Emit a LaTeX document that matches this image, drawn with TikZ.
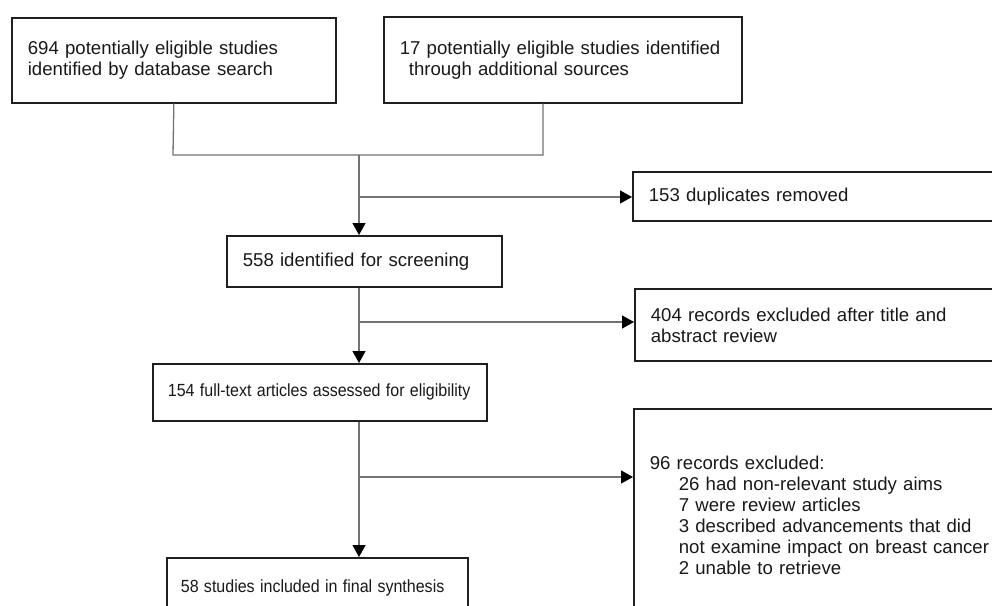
\documentclass[tikz,border=0pt]{standalone}
\usepackage{graphicx}
\usepackage{fontspec}
\setmainfont{Liberation Sans}
\usetikzlibrary{arrows.meta}
\begin{document}
\begin{tikzpicture}[x=1pt,y=-1pt,
  box/.style={draw=black!88, line width=1.7pt, anchor=north west, align=left,
    inner xsep=16pt, inner ysep=0pt, font=\fontsize{18.6}{21}\selectfont, text=black!90},
  small/.style={font=\fontsize{17.6}{21}\selectfont},
  conn/.style={draw=black!55, line width=1.3pt},
  arr/.style={conn, -{Triangle[length=12pt,width=13pt,color=black]}}]
\useasboundingbox (0,0) rectangle (992,605);
\clip (0,0) rectangle (992,605);
\fill[white] (0,0) rectangle (992,605);

\node[box, minimum width=324pt, minimum height=85pt, text width=292pt] (b1) at (11,17)
  {\mbox{694 potentially eligible studies}\\\mbox{identified by database search}};
\node[box, minimum width=358pt, minimum height=86pt, text width=326pt] (b2) at (383,16)
  {\mbox{17 potentially eligible studies identified}\\\hspace*{9pt}\mbox{through additional sources}};
\node[box, minimum width=400pt, minimum height=49pt, text width=368pt] (dup) at (632,171)
  {\mbox{153 duplicates removed}};
\node[box, minimum width=275pt, minimum height=51pt, text width=243pt] (b3) at (226,235)
  {\mbox{558 identified for screening}};
\node[box, minimum width=400pt, minimum height=72pt, text width=368pt] (ex2) at (634,288)
  {\mbox{404 records excluded after title and}\\\mbox{abstract review}};
\node[box, small, minimum width=334pt, minimum height=57pt, text width=304pt, inner xsep=15pt] (b4) at (152,363)
  {\scalebox{0.91}[1]{154 full-text articles assessed for eligibility}};
\node[box, small, minimum width=301pt, minimum height=60pt, text width=273pt, inner xsep=14pt] (b5) at (166,557)
  {\scalebox{0.91}[1]{58 studies included in final synthesis}};
\node[box, minimum width=400pt, minimum height=212pt, text width=368pt] (ex3) at (633,408)
  {\mbox{96 records excluded:}\\
   \hspace*{29pt}\mbox{26 had non-relevant study aims}\\
   \hspace*{29pt}\mbox{7 were review articles}\\
   \hspace*{29pt}\mbox{3 described advancements that did}\\
   \hspace*{29pt}\mbox{not examine impact on breast cancer}\\
   \hspace*{29pt}\mbox{2 unable to retrieve}};

\coordinate (jl) at (173,155);
\coordinate (jr) at (543,155);
\coordinate (jc) at (359,155);
\coordinate (br1) at (359,197);
\coordinate (br2) at (359,322);
\coordinate (br3) at (359,477);

\draw[conn] (b1.south) -- (jl) -- (jr) -- (jr |- b2.south);
\draw[arr] (jc) -- (jc |- b3.north);
\draw[arr] (br1) -- (br1 -| dup.west);
\draw[arr] (jc |- b3.south) -- (jc |- b4.north);
\draw[arr] (br2) -- (br2 -| ex2.west);
\draw[arr] (jc |- b4.south) -- (jc |- b5.north);
\draw[arr] (br3) -- (br3 -| ex3.west);
\end{tikzpicture}
\end{document}
